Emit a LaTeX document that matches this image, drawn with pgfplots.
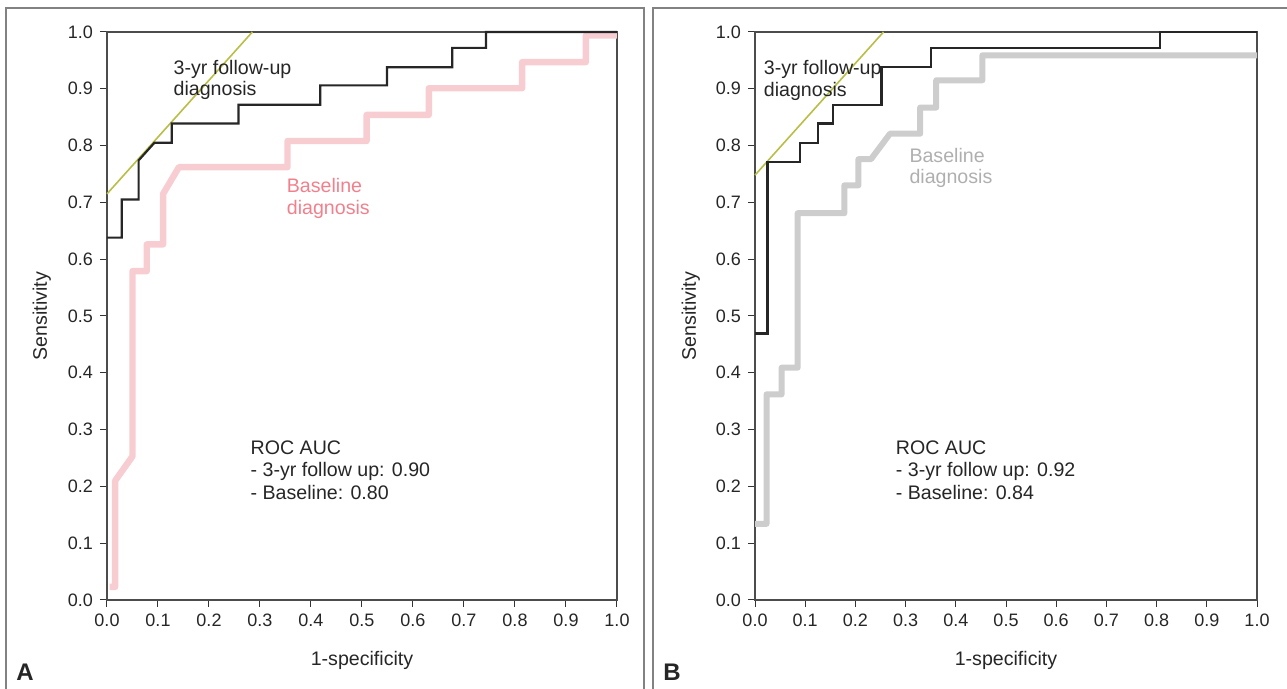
\documentclass[border=0pt]{standalone}
\usepackage{fontspec}
\setmainfont{Liberation Sans}
\usepackage{pgfplots}
\pgfplotsset{compat=1.18}
\definecolor{pinkline}{RGB}{247,205,210}
\definecolor{pinktext}{RGB}{242,128,140}
\definecolor{grayline}{RGB}{205,205,205}
\definecolor{graytext}{RGB}{175,175,175}
\definecolor{olive}{RGB}{185,190,70}
\definecolor{framegray}{RGB}{130,130,130}
\pgfplotsset{
  rocaxis/.style={
    scale only axis, height=284pt,
    xmin=0, xmax=1, ymin=0, ymax=1,
    xtick={0,0.1,0.2,0.3,0.4,0.5,0.6,0.7,0.8,0.9,1.0},
    ytick={0,0.1,0.2,0.3,0.4,0.5,0.6,0.7,0.8,0.9,1.0},
    /pgf/number format/.cd, fixed, fixed zerofill, precision=1, assume math mode=true, /pgfplots/.cd,
    tick label style={font=\fontsize{9}{10}\selectfont, black!85},
    label style={font=\fontsize{9.8}{11}\selectfont, black!85},
    tick align=outside, xtick pos=bottom, ytick pos=left,
    major tick length=3.5pt,
    tick style={black!80, line width=0.5pt},
    axis line style={black!70, line width=0.6pt},
    clip=false,
    xlabel={1-specificity}, ylabel={Sensitivity},
    xlabel style={at={(axis description cs:0.5,-0.106)}, anchor=center},
    ylabel style={at={(axis description cs:-0.128,0.5)}, anchor=center, rotate=0},
  }
}
\begin{document}
\begin{tikzpicture}[x=0.5pt,y=0.5pt]
\useasboundingbox (0,0) rectangle (1287,689);
\draw[framegray, line width=0.6pt] (6,0) -- (6,681) -- (644,681) -- (644,0);
\draw[framegray, line width=0.6pt] (653,0) -- (653,681) -- (1290,681);

\begin{axis}[rocaxis, width=255pt, at={(53.5pt,44.5pt)}, anchor=south west]
\addplot[pinkline, line width=3.2pt, line join=round] coordinates {
(0.005,0.023) (0.016,0.023) (0.016,0.21) (0.050,0.253) (0.050,0.579) (0.078,0.579)
(0.078,0.626) (0.110,0.626) (0.110,0.715) (0.141,0.762) (0.354,0.762) (0.354,0.808)
(0.509,0.808) (0.509,0.854) (0.631,0.854) (0.631,0.901) (0.814,0.901) (0.814,0.947)
(0.939,0.947) (0.939,0.994) (1.0,0.994)};
\addplot[olive, line width=0.8pt] coordinates {(0,0.715) (0.285,1.0)};
\addplot[black!85, line width=1.1pt] coordinates {
(0,0.638) (0.029,0.638) (0.029,0.705) (0.062,0.705) (0.062,0.774) (0.093,0.805)
(0.127,0.805) (0.127,0.839) (0.258,0.839) (0.258,0.872) (0.418,0.872) (0.418,0.906)
(0.549,0.906) (0.549,0.938) (0.677,0.938) (0.677,0.972) (0.743,0.972) (0.743,1.0) (1,1)};
\node[anchor=west, align=left, font=\fontsize{9.8}{10.8}\selectfont, black!85, inner sep=0pt] at (axis cs:0.13,0.9155) {3-yr follow-up\\diagnosis};
\node[anchor=west, align=left, font=\fontsize{9.8}{10.8}\selectfont, pinktext, inner sep=0pt] at (axis cs:0.352,0.707) {Baseline\\diagnosis};
\node[anchor=west, align=left, font=\fontsize{9.8}{11.3}\selectfont, black!85, inner sep=0pt] at (axis cs:0.281,0.229) {ROC AUC\\- 3-yr follow up: 0.90\\- Baseline: 0.80};
\end{axis}

\begin{axis}[rocaxis, width=251pt, at={(377.5pt,44.5pt)}, anchor=south west]
\addplot[grayline, line width=3.0pt, line join=round] coordinates {
(0,0.134) (0.023,0.134) (0.023,0.362) (0.053,0.362) (0.053,0.409) (0.085,0.409)
(0.085,0.681) (0.178,0.681) (0.178,0.730) (0.206,0.730) (0.206,0.776) (0.231,0.776)
(0.269,0.821) (0.329,0.821) (0.329,0.867) (0.361,0.867) (0.361,0.915) (0.453,0.915)
(0.453,0.959) (1,0.959)};
\addplot[olive, line width=0.8pt] coordinates {(0,0.748) (0.256,1.0)};
\addplot[black!85, line width=1.1pt] coordinates {
(0,0.469) (0.025,0.469) (0.025,0.771) (0.090,0.771) (0.090,0.805) (0.125,0.805)
(0.125,0.839) (0.156,0.839) (0.156,0.872) (0.252,0.872) (0.252,0.938) (0.351,0.938)
(0.351,0.972) (0.807,0.972) (0.807,1.0) (1,1)};
\node[anchor=west, align=left, font=\fontsize{9.8}{10.8}\selectfont, black!85, inner sep=0pt] at (axis cs:0.017,0.9145) {3-yr follow-up\\diagnosis};
\node[anchor=west, align=left, font=\fontsize{9.8}{10.8}\selectfont, graytext, inner sep=0pt] at (axis cs:0.307,0.761) {Baseline\\diagnosis};
\node[anchor=west, align=left, font=\fontsize{9.8}{11.3}\selectfont, black!85, inner sep=0pt] at (axis cs:0.280,0.229) {ROC AUC\\- 3-yr follow up: 0.92\\- Baseline: 0.84};
\end{axis}

\node[font=\fontsize{12}{14}\selectfont\bfseries, black!85] at (25,17) {A};
\node[font=\fontsize{12}{14}\selectfont\bfseries, black!85] at (672,17) {B};
\end{tikzpicture}
\end{document}
